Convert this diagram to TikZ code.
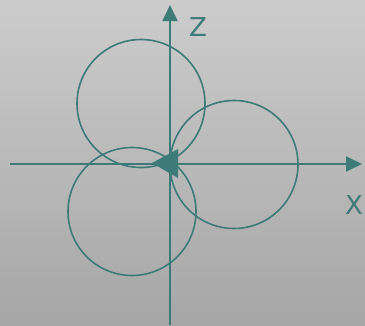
\documentclass[tikz,border=0pt]{standalone}
\usepackage{fontspec}
\setsansfont{DejaVu Sans}
\usepackage{tikz}
\usetikzlibrary{arrows.meta}
\definecolor{axisteal}{RGB}{61,122,120}
\definecolor{bgtop}{RGB}{204,204,204}
\definecolor{bgbottom}{RGB}{166,166,166}

\begin{document}
\begin{tikzpicture}[x=1pt,y=-1pt,
    axisline/.style={axisteal,line width=1.8pt,-{Triangle[length=16pt,width=15pt]}},
    loopline/.style={axisteal,line width=1.6pt},
    axislabel/.style={text=axisteal,font=\sffamily\fontsize{26}{26}\selectfont,inner sep=0pt}]
    % background
    \shade[top color=bgtop,bottom color=bgbottom] (0,0) rectangle (365,325);
    \useasboundingbox (0,0) rectangle (365,325);
    % axes
    \coordinate (origin) at (170,164);
    \coordinate (xstart) at (10,164);
    \coordinate (xend) at (362,164);
    \coordinate (zstart) at (170,325);
    \coordinate (zend) at (170,5);
    \draw[axisline] (xstart) -- (xend);
    \draw[axisline] (zstart) -- (zend);
    \node[axislabel] (zlabel) at (198,27) {Z};
    \node[axislabel] (xlabel) at (354,205) {X};
    % three loops through the origin
    \draw[loopline] (141,103.5) circle (64);
    \draw[loopline] (234,164.5) circle (64);
    \draw[loopline] (132,211.5) circle (64);
    % direction marker at the origin
    \fill[axisteal] (152,163) -- (178,149) -- (178,178) -- cycle;
\end{tikzpicture}
\end{document}
